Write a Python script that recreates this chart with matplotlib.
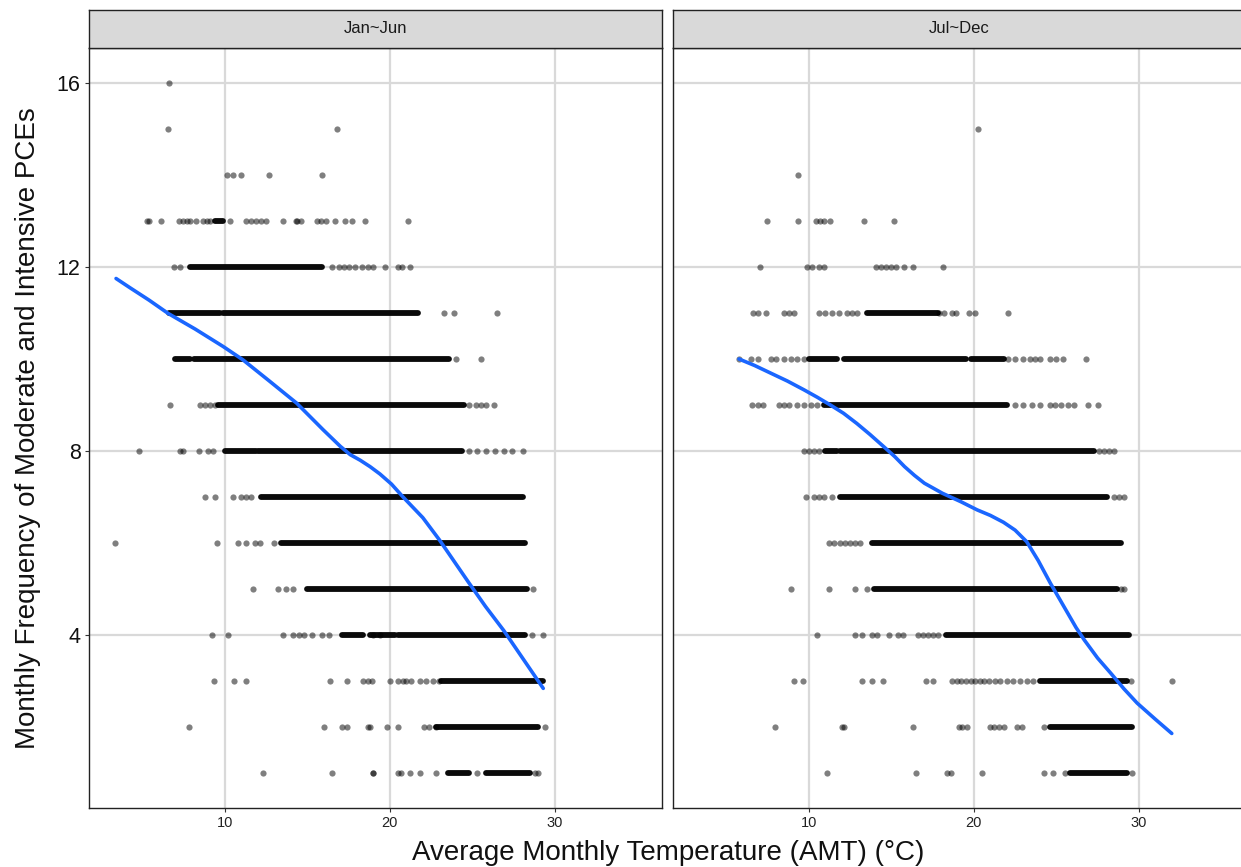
import matplotlib
matplotlib.use("Agg")
import matplotlib.pyplot as plt

plt.rcParams['font.family'] = ['Liberation Sans', 'DejaVu Sans']

panel_titles = ["Jan~Jun", "Jul~Dec"]
x_ticks = [10, 20, 30]
y_ticks = [4, 8, 12, 16]
x_label = "Average Monthly Temperature (AMT) (°C)"
y_label = "Monthly Frequency of Moderate and Intensive PCEs"

# ---- Jan~Jun: isolated points per frequency level (x = AMT)
jan_points = {
    16: [6.6],
    15: [6.56, 16.8],
    14: [10.1, 10.5, 11.0, 12.67, 15.86],
    13: [5.25, 5.41, 6.1, 7.2, 7.45, 7.7, 7.9, 8.24, 8.7, 8.9, 9.1, 10.3, 11.3, 11.6,
         11.9, 12.2, 12.5, 13.5, 14.3, 14.4, 14.6, 15.6, 15.8, 16.1, 16.7, 17.3, 17.7, 18.5, 21.1],
    12: [6.9, 7.3, 16.5, 16.9, 17.2, 17.5, 17.9, 18.3, 18.7, 18.95, 19.7, 20.5, 20.75, 21.2],
    11: [23.3, 23.9, 26.5],
    10: [24.0, 25.5],
    9: [6.67, 8.5, 8.8, 9.1, 9.4, 24.8, 25.2, 25.5, 25.8, 26.3],
    8: [4.8, 7.27, 7.47, 8.4, 9.0, 9.3, 24.8, 25.3, 25.8, 26.4, 26.9, 27.4, 28.1],
    7: [8.8, 9.4, 10.5, 11.0, 11.3, 11.6],
    6: [3.33, 9.5, 10.8, 11.3, 11.8, 12.1, 13.0],
    5: [11.7, 13.2, 13.7, 14.1, 28.7],
    4: [9.2, 10.2, 13.5, 14.1, 14.5, 14.8, 15.25, 15.9, 16.3, 19.0, 19.4, 28.6, 29.3],
    3: [9.33, 10.56, 11.3, 16.4, 17.4, 18.4, 18.7, 18.9, 20.0, 20.5, 20.8, 21.0, 21.3,
        21.8, 22.2, 22.6, 23.0],
    2: [7.8, 16.0, 17.1, 17.4, 18.7, 18.8, 19.8, 20.5, 22.1, 22.4, 22.8, 29.4],
    1: [12.3, 16.5, 19.0, 18.95, 20.5, 20.7, 21.2, 21.8, 22.8, 25.3, 28.8, 29.0],
}
# ---- Jan~Jun: dense runs of overlapping points (start, end)
jan_dense = {
    13: [(9.4, 9.9)],
    12: [(7.9, 15.9)],
    11: [(6.6, 9.7), (9.9, 21.7)],
    10: [(7.0, 7.9), (8.1, 23.6)],
    9: [(9.6, 24.5)],
    8: [(10.0, 11.9), (12.0, 24.4)],
    7: [(12.2, 28.1)],
    6: [(13.4, 28.2)],
    5: [(15.0, 28.3)],
    4: [(17.1, 18.4), (18.8, 20.3), (20.5, 28.2)],
    3: [(23.1, 29.3)],
    2: [(22.8, 29.0)],
    1: [(23.5, 24.8), (25.8, 28.5)],
}
# ---- Jan~Jun smoothed trend
jan_curve_x = [3.4, 4.24, 5.4, 6.56, 8.2, 9.9, 11.1, 12.7, 14.35, 15.96, 17.0, 17.6,
               18.2, 18.8, 19.4, 20.1, 20.8, 22.0, 23.0, 23.9, 24.8, 25.8, 26.9, 28.1, 29.3]
jan_curve_y = [11.75, 11.55, 11.28, 10.99, 10.65, 10.27, 9.98, 9.52, 9.04, 8.46, 8.1, 7.92,
               7.8, 7.66, 7.5, 7.28, 7.0, 6.55, 6.07, 5.6, 5.13, 4.62, 4.1, 3.47, 2.84]

# ---- Jul~Dec: isolated points
jul_points = {
    15: [20.27],
    14: [9.36],
    13: [7.44, 9.36, 10.4, 10.7, 10.9, 11.3, 13.34, 15.16],
    12: [7.04, 9.9, 10.2, 10.6, 10.9, 14.05, 14.4, 14.7, 15.0, 15.3, 15.75, 16.3, 18.1],
    11: [6.6, 6.9, 7.4, 8.5, 8.8, 9.1, 10.6, 11.0, 11.4, 11.8, 12.3, 12.6, 12.9,
         17.9, 18.2, 18.7, 18.9, 19.7, 20.1, 22.1],
    10: [5.76, 6.47, 6.9, 7.7, 8.0, 8.5, 8.9, 9.3, 9.7, 22.1, 22.5, 23.0, 23.4, 23.7,
         24.0, 24.6, 25.0, 25.4, 26.8],
    9: [6.53, 6.9, 7.2, 8.2, 8.5, 8.8, 9.3, 9.7, 10.1, 10.5, 22.5, 23.0, 23.5, 24.0, 24.6,
        24.9, 25.3, 25.7, 26.1, 26.9, 27.5],
    8: [9.7, 10.0, 10.3, 10.6, 27.6, 27.9, 28.2, 28.5],
    7: [9.8, 10.3, 10.6, 10.9, 11.4, 28.5, 28.8, 29.1],
    6: [11.2, 11.5, 11.9, 12.2, 12.5, 12.8, 13.1],
    5: [8.9, 11.2, 12.8, 13.5, 28.9, 29.1],
    4: [10.5, 12.8, 13.2, 13.85, 14.15, 14.85, 15.4, 15.7, 16.6, 16.9, 17.2, 17.5, 17.8],
    3: [9.1, 9.67, 13.2, 13.85, 14.5, 17.1, 17.5, 18.7, 19.0, 19.2, 19.5, 19.8, 20.1, 20.4,
        20.6, 20.9, 21.3, 21.6, 22.0, 22.4, 22.8, 23.2, 23.6, 29.5, 32.0],
    2: [7.95, 12.0, 12.1, 16.3, 19.1, 19.3, 19.6, 21.0, 21.2, 21.5, 21.8, 22.6, 22.9, 24.25],
    1: [11.1, 16.5, 18.4, 18.6, 20.5, 24.25, 24.8, 25.5, 29.6],
}
# ---- Jul~Dec: dense runs
jul_dense = {
    11: [(13.5, 17.8)],
    10: [(10.0, 11.7), (12.1, 19.5), (19.8, 21.8)],
    9: [(10.9, 22.0)],
    8: [(11.0, 11.7), (11.9, 27.3)],
    7: [(11.9, 28.1)],
    6: [(13.85, 28.9)],
    5: [(13.95, 28.7)],
    4: [(18.3, 29.4)],
    3: [(24.0, 29.3)],
    2: [(24.6, 29.6)],
    1: [(25.8, 29.3)],
}
# ---- Jul~Dec smoothed trend
jul_curve_x = [5.76, 6.7, 7.7, 8.7, 9.7, 10.5, 11.3, 12.1, 12.9, 13.7, 14.55, 15.2, 15.8,
               16.4, 17.0, 18.1, 19.2, 20.2, 21.0, 21.8, 22.5, 23.2, 23.9, 24.65, 25.2,
               25.7, 26.2, 26.7, 27.5, 28.3, 29.1, 29.9, 31.0, 32.0]
jul_curve_y = [10.0, 9.86, 9.69, 9.52, 9.33, 9.17, 9.0, 8.82, 8.6, 8.36, 8.09, 7.88, 7.66,
               7.47, 7.3, 7.08, 6.9, 6.72, 6.6, 6.45, 6.28, 6.03, 5.62, 5.12, 4.78,
               4.47, 4.16, 3.89, 3.5, 3.17, 2.83, 2.52, 2.17, 1.86]

W, H = 1241, 867
fig = plt.figure(figsize=(W / 100, H / 100), dpi=100)

panel_top, panel_bot = 48.3, 807.7
panel_w = 573
lefts = [89, 673]
grid_c = "#D9D9D9"

panels = [(jan_points, jan_dense, jan_curve_x, jan_curve_y),
          (jul_points, jul_dense, jul_curve_x, jul_curve_y)]

for i, (pts, dense, cx, cy) in enumerate(panels):
    ax = fig.add_axes([lefts[i] / W, 1 - panel_bot / H, panel_w / W, (panel_bot - panel_top) / H])
    ax.set_xlim(1.76, 36.5)
    ax.set_ylim(0.246, 16.754)
    ax.set_xticks(x_ticks)
    ax.set_yticks(y_ticks)
    ax.grid(True, color=grid_c, linewidth=1.6, zorder=0)
    ax.set_axisbelow(True)
    for s in ax.spines.values():
        s.set_color("#222222")
        s.set_linewidth(1.0)
    ax.tick_params(axis='x', length=3, width=0.8, color="#333333", labelsize=10.5,
                   labelcolor="#222222", pad=3)
    if i == 0:
        ax.tick_params(axis='y', length=3, width=0.8, color="#333333", labelsize=15.5,
                       labelcolor="#111111", pad=3)
    else:
        ax.tick_params(axis='y', length=0, labelleft=False)
    # dense runs
    for yv, runs in dense.items():
        for (a, b) in runs:
            ax.plot([a, b], [yv, yv], color="#0a0a0a", linewidth=4.2,
                    solid_capstyle='round', zorder=2)
    # isolated points
    xs, ys = [], []
    for yv, xl in pts.items():
        xs.extend(xl)
        ys.extend([yv] * len(xl))
    ax.scatter(xs, ys, s=20, color="black", alpha=0.5, linewidths=0, zorder=3)
    # trend line
    ax.plot(cx, cy, color="#1a66ff", linewidth=2.6, zorder=4,
            solid_capstyle='round', solid_joinstyle='round')

    # facet strip
    sax = fig.add_axes([lefts[i] / W, 1 - 47.5 / H, panel_w / W, (47.5 - 10) / H])
    sax.set_facecolor("#D9D9D9")
    sax.set_xticks([])
    sax.set_yticks([])
    for s in sax.spines.values():
        s.set_color("#222222")
        s.set_linewidth(1.0)
    sax.text(0.5, 0.5, panel_titles[i], ha='center', va='center', fontsize=12,
             color="#1a1a1a", transform=sax.transAxes)

fig.text(668 / W, 1 - 853 / H, x_label, ha='center', va='center',
         fontsize=20, color="#111111")
fig.text(28 / W, 1 - 428 / H, y_label, ha='center', va='center', rotation=90,
         fontsize=20, color="#111111")

fig.savefig("out.png", dpi=100, facecolor="white")
